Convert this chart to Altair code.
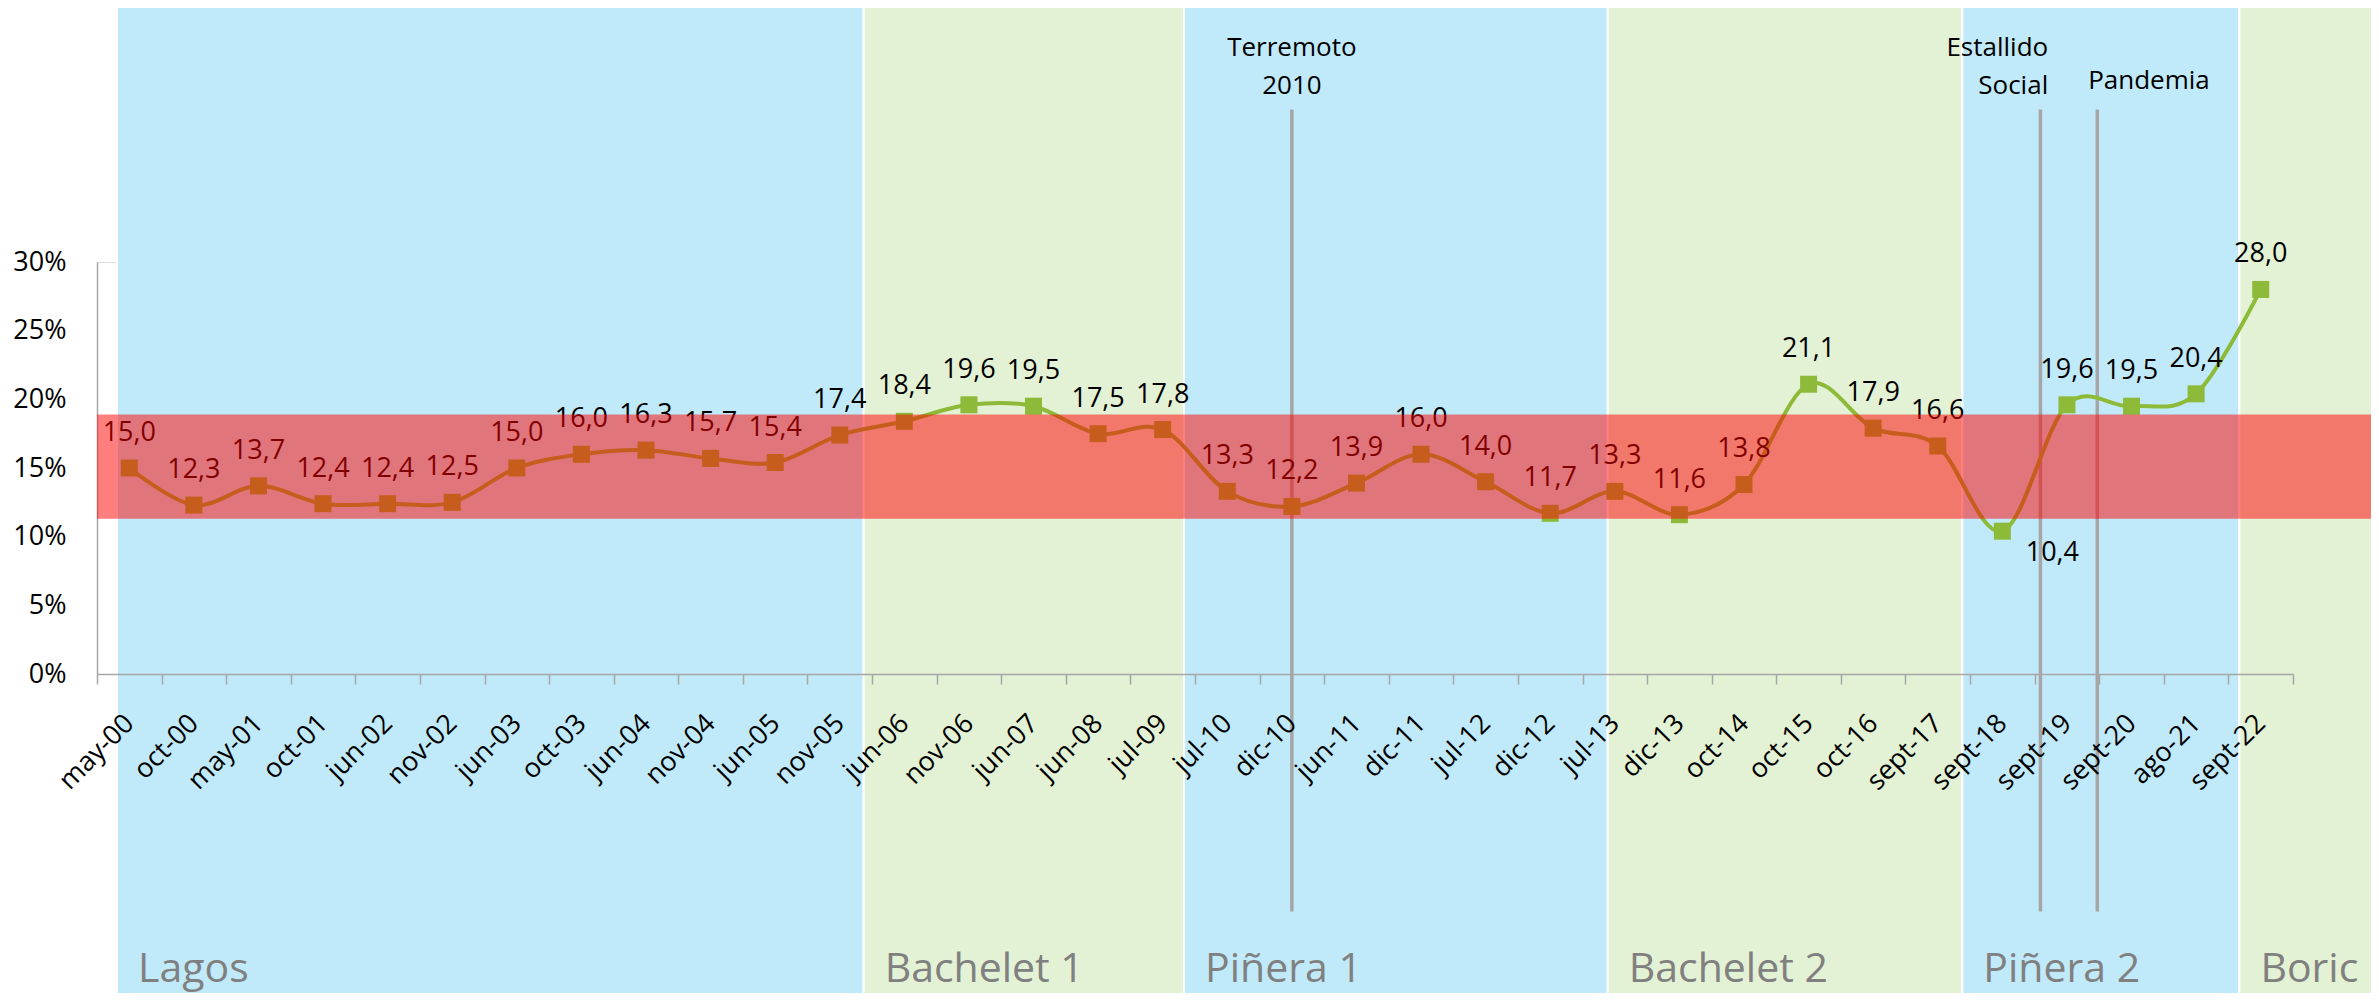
import altair as alt
import pandas as pd
import json

# ---------------- data ----------------
categories = ["may-00", "oct-00", "may-01", "oct-01", "jun-02", "nov-02", "jun-03", "oct-03",
              "jun-04", "nov-04", "jun-05", "nov-05", "jun-06", "nov-06", "jun-07", "jun-08",
              "jul-09", "jul-10", "dic-10", "jun-11", "dic-11", "jul-12", "dic-12", "jul-13",
              "dic-13", "oct-14", "oct-15", "oct-16", "sept-17", "sept-18", "sept-19",
              "sept-20", "ago-21", "sept-22"]
values = [15.0, 12.3, 13.7, 12.4, 12.4, 12.5, 15.0, 16.0, 16.3, 15.7, 15.4, 17.4, 18.4, 19.6,
          19.5, 17.5, 17.8, 13.3, 12.2, 13.9, 16.0, 14.0, 11.7, 13.3, 11.6, 13.8, 21.1, 17.9,
          16.6, 10.4, 19.6, 19.5, 20.4, 28.0]
label_below = ["sept-18"]

# government periods (start / end in category-index units)
periods = ["Lagos", "Bachelet 1", "Piñera 1", "Bachelet 2", "Piñera 2", "Boric"]
period_start = [-0.19, 11.37, 16.33, 22.89, 28.38, 32.67]
period_end = [11.37, 16.33, 22.89, 28.38, 32.67, 35.2]
period_group = ["a", "b", "a", "b", "a", "b"]

# reference band (%)
band_low = [11.3]
band_high = [18.9]

# events
event_names = ["Terremoto 2010", "Estallido Social", "Pandemia"]
event_x = [18.0, 29.59, 30.47]
event_y_from = [-17.3, -17.3, -17.3]
event_y_to = [41.1, 41.1, 41.1]

ann_text = ["Terremoto", "2010", "Estallido", "Social", "Pandemia"]
ann_x = [18.0, 18.0, 29.71, 29.71, 31.27]
ann_y = [45.0, 42.2, 45.0, 42.2, 42.6]
ann_align = ["center", "center", "right", "right", "center"]

period_label_y = -22.4
bands_top = 48.9
bands_bottom = -24.5

# ---------------- frames ----------------
df = pd.DataFrame({"idx": list(range(len(categories))), "cat": categories, "v": values})
df_periods = pd.DataFrame({"name": periods, "start": period_start, "end": period_end,
                           "group": period_group, "top": bands_top, "bottom": bands_bottom,
                           "ly": period_label_y})
df_band = pd.DataFrame({"x0": [-0.5], "x1": [35.2], "lo": band_low, "hi": band_high})
df_events = pd.DataFrame({"name": event_names, "x": event_x, "y0": event_y_from, "y1": event_y_to})
df_ann = pd.DataFrame({"t": ann_text, "x": ann_x, "y": ann_y, "align": ann_align})

FONT = "Open Sans"
GRAY = "#A6A6A6"
GREEN = "#8DBA38"

xs = alt.Scale(domain=[-0.5, 33.5], nice=False, zero=False)
ys = alt.Scale(domain=[0, 30], nice=False, zero=False)

tick_vals = [i - 0.5 for i in range(len(categories) + 1)]
label_js = json.dumps(categories + [""])

x_axis = alt.Axis(values=tick_vals, labelExpr=label_js + "[round(datum.value + 0.5)]",
                  labelOffset=32.3, labelAngle=-45, labelAlign="right", labelBaseline="middle",
                  labelPadding=35, tickSize=10, tickColor=GRAY, tickWidth=1.5,
                  domainColor=GRAY, domainWidth=1.5, labelFont=FONT, labelFontSize=27,
                  labelColor="#000000", labelOverlap=False, labelFlush=False, labelBound=False,
                  grid=False, zindex=1)
y_axis = alt.Axis(values=[0, 5, 10, 15, 20, 25, 30], labelExpr="datum.value + '%'",
                  ticks=False, domainColor=GRAY, domainWidth=1.5, labelPadding=31,
                  labelFont=FONT, labelFontSize=27, labelColor="#000000", grid=False,
                  labelFlush=False, labelOverlap=False, zindex=0)


def X(f):
    return alt.X(f, type="quantitative", scale=xs, axis=x_axis, title=None)


def Y(f):
    return alt.Y(f, type="quantitative", scale=ys, axis=y_axis, title=None)


bands = alt.Chart(df_periods).mark_rect(clip=False, stroke="white", strokeWidth=2).encode(
    x=X("start"), x2="end", y=Y("bottom"), y2="top",
    color=alt.Color("group:N", scale=alt.Scale(domain=["a", "b"], range=["#C0EAF9", "#E3F1D4"]),
                    legend=None),
)

period_text = alt.Chart(df_periods).mark_text(
    clip=False, align="left", baseline="alphabetic", dx=21, font=FONT, fontSize=41,
    color="#808080").encode(x=X("start"), y=Y("ly"), text="name:N")

rules = alt.Chart(df_events).mark_rule(clip=False, color=GRAY, strokeWidth=3.5).encode(
    x=X("x"), y=Y("y0"), y2="y1")

ann_c = alt.Chart(df_ann).transform_filter("datum.align == 'center'").mark_text(
    clip=False, align="center", baseline="alphabetic", font=FONT, fontSize=26,
    color="#000000").encode(x=X("x"), y=Y("y"), text="t:N")
ann_r = alt.Chart(df_ann).transform_filter("datum.align == 'right'").mark_text(
    clip=False, align="right", baseline="alphabetic", font=FONT, fontSize=26,
    color="#000000").encode(x=X("x"), y=Y("y"), text="t:N")

line = alt.Chart(df).mark_line(clip=False, interpolate="cardinal", color=GREEN,
                               strokeWidth=4).encode(x=X("idx"), y=Y("v"))
points = alt.Chart(df).mark_point(clip=False, shape="square", filled=True, size=289,
                                  color=GREEN, opacity=1).encode(x=X("idx"), y=Y("v"))

lab_base = alt.Chart(df).transform_calculate(
    lab="replace(format(datum.v, '.1f'), '.', ',')")
below_js = json.dumps(label_below)
labels = lab_base.transform_filter("indexof(" + below_js + ", datum.cat) < 0").mark_text(
    clip=False, dy=-35, align="center", baseline="middle", font=FONT, fontSize=27,
    color="#000000").encode(x=X("idx"), y=Y("v"), text="lab:N")
labels_below = lab_base.transform_filter("indexof(" + below_js + ", datum.cat) >= 0").mark_text(
    clip=False, dx=50, dy=22, align="center", baseline="middle", font=FONT, fontSize=27,
    color="#000000").encode(x=X("idx"), y=Y("v"), text="lab:N")

red = alt.Chart(df_band).mark_rect(clip=False, color="#FF0000", opacity=0.5).encode(
    x=X("x0"), x2="x1", y=Y("lo"), y2="hi")

chart = alt.layer(bands, rules, period_text, ann_c, ann_r, line, points, labels,
                  labels_below, red).properties(
    width=2196, height=412,
    autosize=alt.AutoSizeParams(type="none"),
    padding={"left": 89, "top": 254, "right": 78, "bottom": 319},
    background="white",
).configure_view(strokeWidth=0).configure(font=FONT)

chart.save("out.html", embed_options={"renderer": "svg", "actions": False})
